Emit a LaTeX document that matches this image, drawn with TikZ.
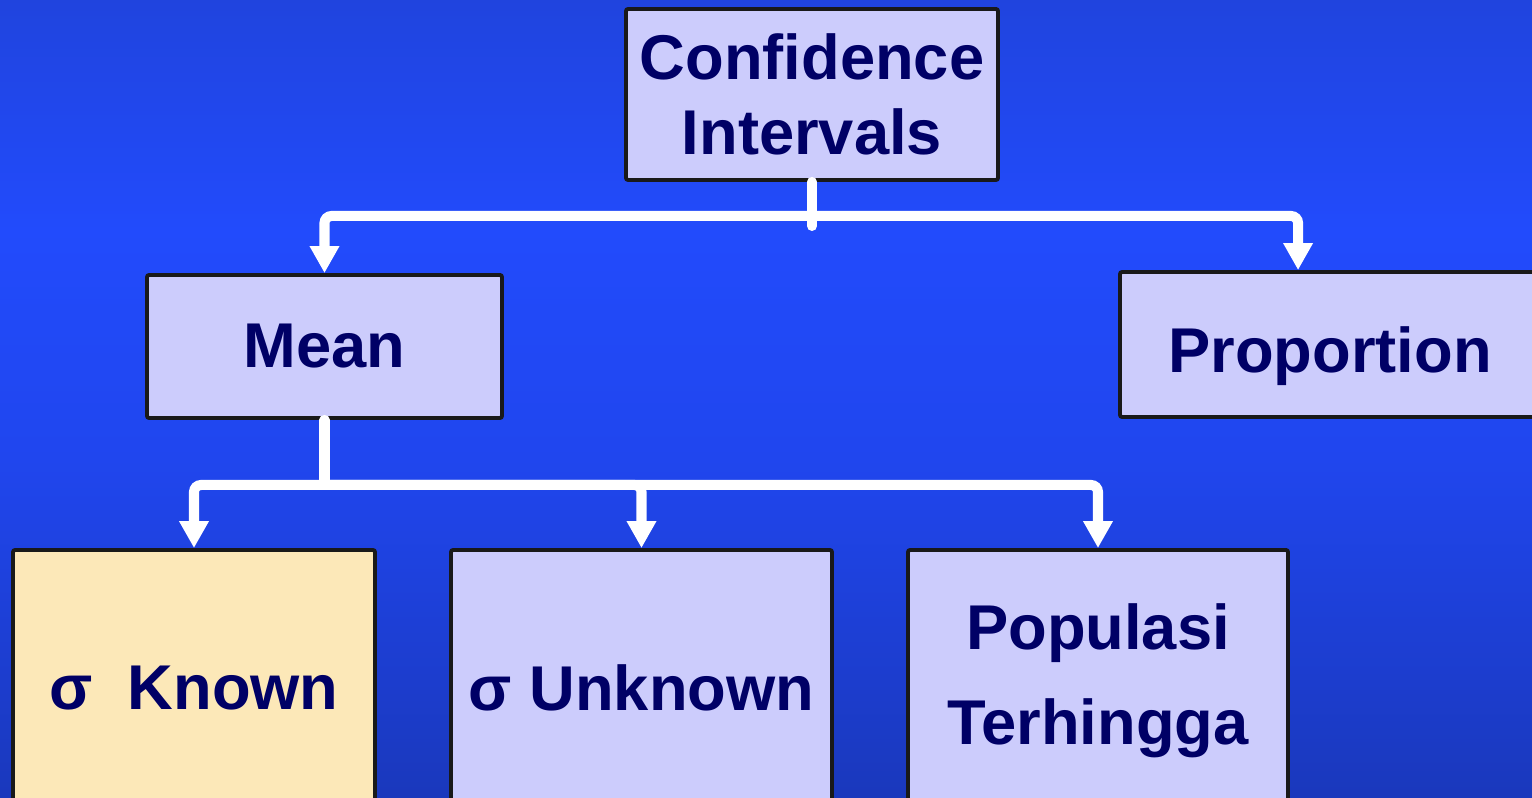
\documentclass[tikz,border=0pt]{standalone}
\usepackage{fontspec}
\setmainfont{Liberation Sans}
\usetikzlibrary{arrows.meta,positioning,calc}

\definecolor{bgtop}{HTML}{2044DE}
\definecolor{bgmid}{HTML}{224BFC}
\definecolor{bglow}{HTML}{2046EE}
\definecolor{bgbot}{HTML}{1A38BC}
\definecolor{boxfill}{HTML}{CCCCFC}
\definecolor{knownfill}{HTML}{FCE8B8}
\definecolor{navy}{HTML}{000066}

\tikzset{
  box/.style={draw=black!90,line width=1.1pt,fill=boxfill,rounded corners=0.6pt,
    text=navy,font=\bfseries\fontsize{18}{21.3}\selectfont,align=center,inner sep=0pt},
  link/.style={draw=white,line width=2.85pt,line cap=round,rounded corners=2pt},
}

\begin{document}
\begin{tikzpicture}[>={Triangle[width=0.28cm,length=0.27cm]}]
  \useasboundingbox (0,0) rectangle (15.32,-7.98);
  \clip (0,0) rectangle (15.32,-7.98);
  % background
  \shade[top color=bgtop,bottom color=bgmid] (0,0.01) rectangle (15.32,-2.3);
  \shade[top color=bgmid,bottom color=bglow] (0,-2.29) rectangle (15.32,-4.6);
  \shade[top color=bglow,bottom color=bgbot] (0,-4.59) rectangle (15.32,-7.99);

  % boxes
  \node[box,minimum width=3.72cm,minimum height=1.71cm] (ci) at (8.12,-0.945) {Confidence\\Intervals};
  \node[box,minimum width=3.55cm,minimum height=1.43cm] (mean) at (3.245,-3.465) {Mean};
  \node[box,minimum width=4.2cm,minimum height=1.45cm,text height=0.57cm,text depth=0pt] (prop) at (13.3,-3.445) {Proportion};
  \node[box,fill=knownfill,minimum width=3.62cm,minimum height=2.76cm] (known) at (1.94,-6.88) {σ\ \ Known};
  \node[box,minimum width=3.81cm,minimum height=2.76cm] (unknown) at (6.415,-6.88) {σ Unknown};
  \node[box,minimum width=3.8cm,minimum height=2.62cm,font=\bfseries\fontsize{18}{27}\selectfont] (pop) at (10.98,-6.81) {Populasi\\Terhingga};

  % connectors
  \coordinate (split1) at (8.12,-2.16);
  \coordinate (split2) at (3.245,-4.85);
  \draw[link] (ci.south) -- ($(split1)+(0,-0.1)$);
  \draw[link,->] (split1) -| (mean.north);
  \draw[link,->] (split1) -| ($(prop.north west)+(1.8,0)$);
  \draw[link] (mean.south) -- (split2);
  \draw[link,->] (split2) -| (known.north);
  \draw[link,->] (split2) -| (unknown.north);
  \draw[link,->] (split2) -| (pop.north);
\end{tikzpicture}
\end{document}
